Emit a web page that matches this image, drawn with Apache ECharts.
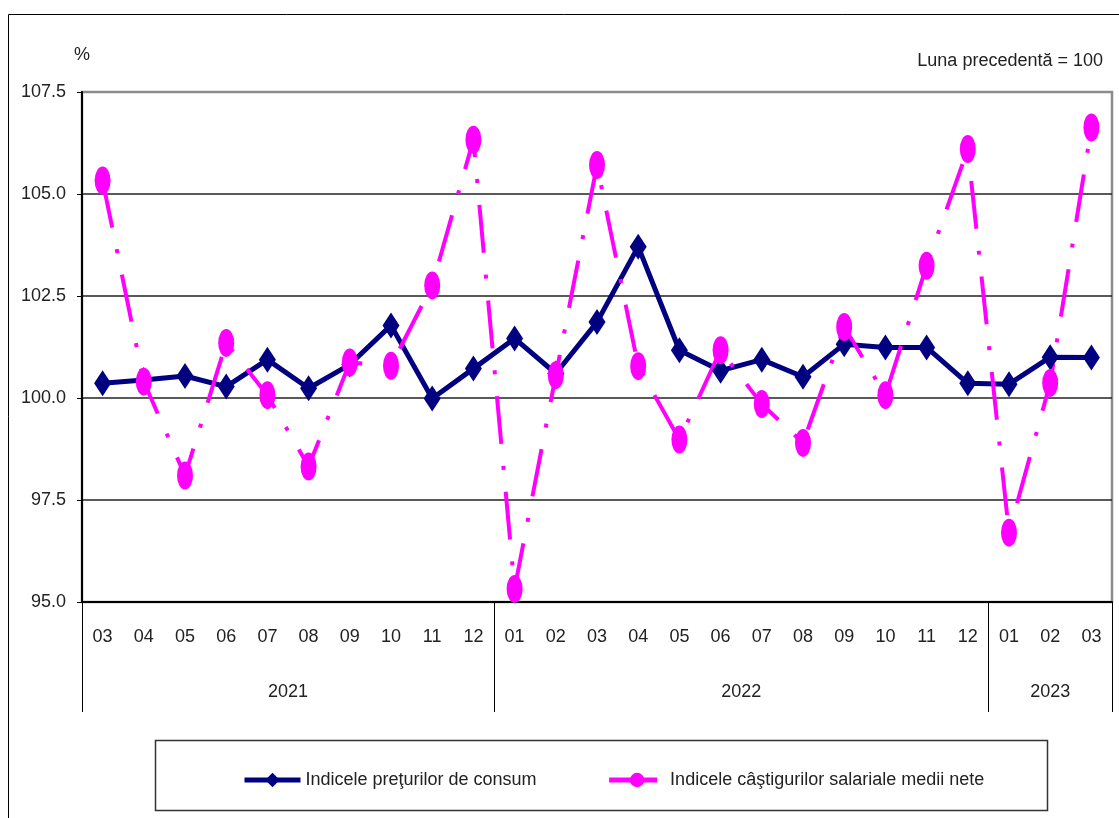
<!DOCTYPE html>
<html>
<head>
<meta charset="utf-8">
<script src="https://cdn.jsdelivr.net/npm/echarts@6/dist/echarts.min.js"></script>
<style>
  html, body { margin: 0; padding: 0; background: #fff; }
  #grafica { width: 1119px; height: 818px; }
</style>
</head>
<body>
<div id="grafica"></div>
<script>
const luni = ["03", "04", "05", "06", "07", "08", "09", "10", "11", "12",
  "01", "02", "03", "04", "05", "06", "07", "08", "09", "10", "11", "12",
  "01", "02", "03"];
const ani = ["2021", "2022", "2023"];
const aniLimite = [0, 10, 22, 25];        // category index where each year starts / ends
const aniMijloc = [5, 16, 23.5];          // centre of each year block

const preturi = [100.36, 100.44, 100.54, 100.28, 100.94, 100.24, 100.82, 101.78, 99.99, 100.72,
  101.46, 100.6, 101.86, 103.71, 101.17, 100.67, 100.94, 100.52, 101.32, 101.24, 101.24, 100.36,
  100.34, 101.0, 100.99];
const castiguri = [105.33, 100.4, 98.1, 101.35, 100.07, 98.32, 100.87, 100.79, 102.76, 106.33,
  95.32, 100.56, 105.71, 100.78, 98.98, 101.17, 99.85, 98.9, 101.74, 100.07, 103.24, 106.1,
  96.7, 100.37, 106.63];

const FONT = "'Liberation Sans Narrow', 'Liberation Sans', Arial, sans-serif";
const FS = 18;
const ELIPSA = "path://M50,0 A50,50 0 1,1 50,100 A50,50 0 1,1 50,0 Z";

const getOptionChart = () => {
  return {
    backgroundColor: "#fff",
    textStyle: { fontFamily: FONT },
    animation: false,
    title: {
      text: "Luna precedentă = 100",
      right: 11,
      top: 47,
      textStyle: { fontFamily: FONT, fontSize: FS, fontWeight: "normal", color: "#222" },
    },
    legend: {
      left: 237,
      top: 766,
      itemWidth: 56,
      itemHeight: 18,
      itemGap: 70,
      lineStyle: { width: 5 },
      textStyle: { fontFamily: FONT, fontSize: FS, color: "#222" },
    },
    graphic: [
      { type: "rect", shape: { x: 8.5, y: 14.5, width: 1130, height: 820 },
        style: { fill: null, stroke: "#000", lineWidth: 1 } },
      { type: "rect", shape: { x: 155.5, y: 740.5, width: 892, height: 70 },
        style: { fill: null, stroke: "#333", lineWidth: 1.5 } },
    ],
    grid: {
      left: 82, right: 7, top: 92, bottom: 216,
      show: true, borderColor: "#8c8c8c", borderWidth: 2.5,
    },
    xAxis: [
      {
        type: "category",
        data: luni,
        boundaryGap: true,
        axisLine: { lineStyle: { color: "#000", width: 2 } },
        axisTick: { length: 56, lineStyle: { color: "#000", width: 1 } },
        axisLabel: { margin: 26, fontFamily: FONT, fontSize: FS, color: "#222", interval: 0 },
      },
      {
        type: "value",
        min: 0, max: luni.length,
        position: "bottom",
        axisLine: { show: false },
        splitLine: { show: false },
        axisTick: { show: true, customValues: aniLimite, length: 110,
          lineStyle: { color: "#000", width: 1 } },
        axisLabel: {
          customValues: aniMijloc,
          margin: 81,
          fontFamily: FONT, fontSize: FS, color: "#222",
          formatter: (v) => ani[aniMijloc.indexOf(v)] || "",
        },
      },
    ],
    yAxis: {
      type: "value",
      min: 95, max: 107.5, interval: 2.5,
      name: "%",
      nameLocation: "end",
      nameGap: 28,
      nameTextStyle: { fontFamily: FONT, fontSize: FS, color: "#222", align: "center" },
      axisLine: { show: true, lineStyle: { color: "#000", width: 2 } },
      axisTick: { show: true, length: 5, lineStyle: { color: "#000" } },
      axisLabel: { margin: 16, fontFamily: FONT, fontSize: FS, color: "#222",
        formatter: (v) => v.toFixed(1) },
      splitLine: { lineStyle: { color: ["#000", "#222", "#222", "#222", "#222", "#8c8c8c"], width: 1.5 } },
    },
    series: [
      {
        name: "Indicele preţurilor de consum",
        type: "line",
        data: preturi,
        symbol: "diamond",
        symbolSize: [17, 26],
        itemStyle: { color: "#000080" },
        lineStyle: { color: "#000080", width: 5 },
      },
      {
        name: "Indicele câştigurilor salariale medii nete",
        type: "line",
        data: castiguri,
        symbol: ELIPSA,
        symbolSize: [16, 28],
        itemStyle: { color: "#ff00ff" },
        lineStyle: { color: "#ff00ff", width: 4, type: [48, 22, 4, 22] },
      },
    ],
  };
};

const initCharts = () => {
  const chart = echarts.init(document.querySelector("#grafica"));
  chart.setOption(getOptionChart());
};

initCharts();
</script>
</body>
</html>
